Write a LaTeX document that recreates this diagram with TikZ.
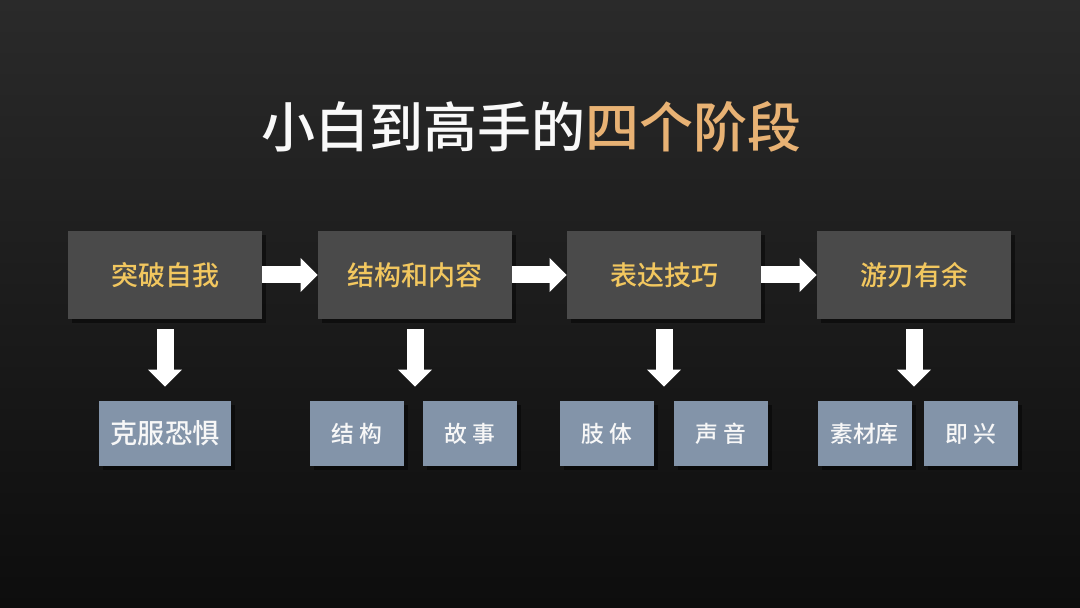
\documentclass[tikz,border=0pt]{standalone}
\usepackage{fontspec}
\setmainfont{Noto Sans CJK SC}
\newfontfamily\cjkmedium{Noto Sans CJK SC Medium}
\usepackage{xcolor}
\usetikzlibrary{arrows.meta,shadows}
\definecolor{bgtop}{HTML}{2A2A2A}
\definecolor{bgbottom}{HTML}{0D0D0D}
\definecolor{boxgray}{HTML}{4A4A4A}
\definecolor{subblue}{HTML}{8394A9}
\definecolor{boxgold}{HTML}{F2C75F}
\definecolor{titlegold}{HTML}{E8B274}

\begin{document}
\begin{tikzpicture}[x=0.5pt, y=-0.5pt,
  box/.style={fill=boxgray, minimum width=97pt, minimum height=44pt, inner sep=0pt, text=boxgold,
    font=\fontsize{13.5}{16}\selectfont\cjkmedium, drop shadow={fill=black, opacity=0.45, shadow xshift=2pt, shadow yshift=-2pt}},
  subbox/.style={fill=subblue, minimum width=47pt, minimum height=32.5pt, inner sep=0pt, text=white!94!gray,
    font=\fontsize{11.4}{14}\selectfont\cjkmedium, drop shadow={fill=black, opacity=0.45, shadow xshift=2pt, shadow yshift=-2pt}},
  arr/.style={draw=white, line width=8.5pt, -{Triangle[length=8.5pt, width=16.5pt]}},
  darr/.style={arr, shorten <=5pt, shorten >=7pt}
]
  % background
  \shade[top color=bgtop, bottom color=bgbottom] (0,0) rectangle (1080,608);
  \useasboundingbox (0,0) rectangle (1080,608);

  \node (title) at (531,127) {\fontsize{27}{32}\selectfont\cjkmedium\color{white!95!gray}小白到高手的\textcolor{titlegold}{四个阶段}};

  \node[box] (stage1) at (165,275) {突破自我};
  \node[box] (stage2) at (415,275) {结构和内容};
  \node[box] (stage3) at (664,275) {表达技巧};
  \node[box] (stage4) at (914,275) {游刃有余};

  \draw[arr] (stage1) -- (stage2);
  \draw[arr] (stage2) -- (stage3);
  \draw[arr] (stage3) -- (stage4);

  \node[subbox, minimum width=66pt, font=\fontsize{13.6}{16}\selectfont\cjkmedium] (fear) at (165,433.5) {克服恐惧};
  \node[subbox] (struct) at (356.5,433.5) {结 构};
  \node[subbox] (story)  at (470,433.5)   {故 事};
  \node[subbox] (body)   at (607,433.5)   {肢 体};
  \node[subbox] (voice)  at (721,433.5)   {声 音};
  \node[subbox] (stock)  at (864.5,433.5) {素材库};
  \node[subbox] (impro)  at (970.5,433.5) {即 兴};

  \draw[darr] (stage1.south) -- (fear.north);
  \draw[darr] (stage2.south) -- (stage2.south |- struct.north);
  \draw[darr] (stage3.south) -- (stage3.south |- body.north);
  \draw[darr] (stage4.south) -- (stage4.south |- stock.north);
\end{tikzpicture}
\end{document}
